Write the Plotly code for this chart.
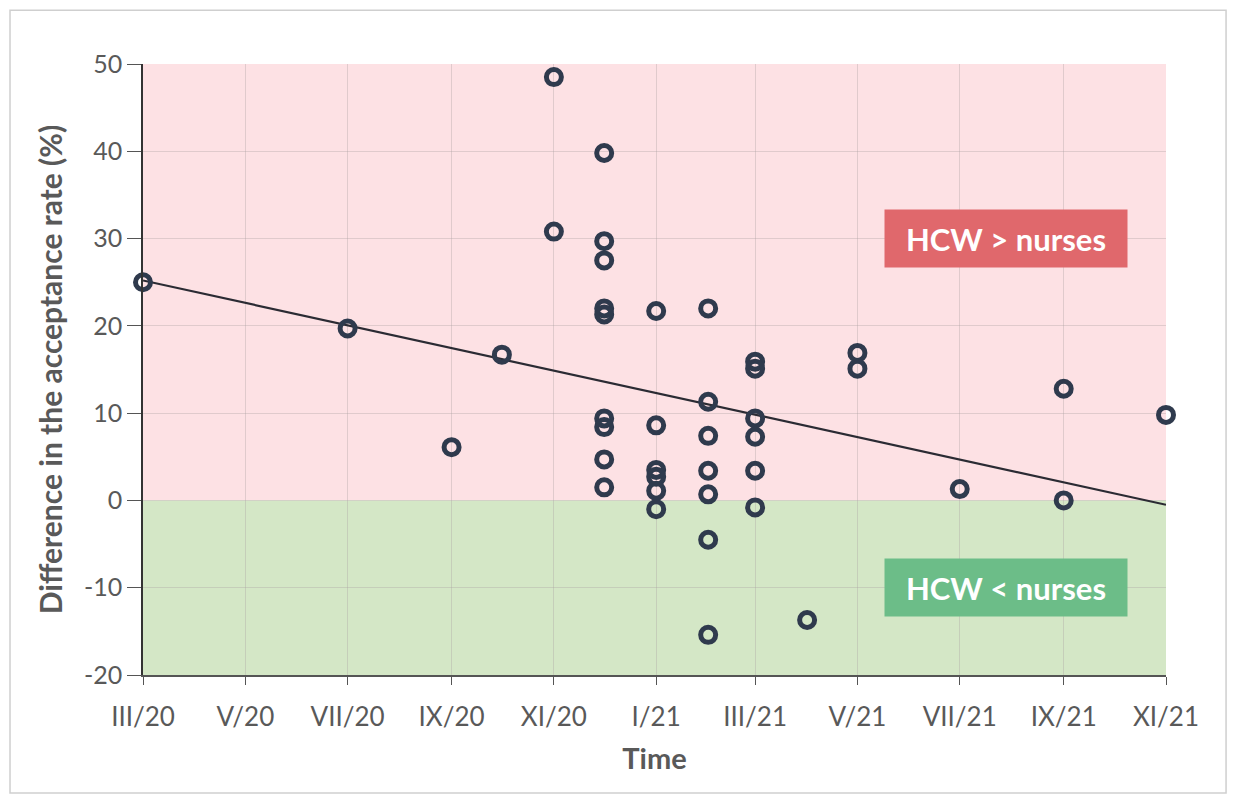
import plotly.graph_objects as go

# observations: survey month and difference in acceptance rate (HCW - nurses, %)
obs_month = (
    ["2020-03-01", "2020-07-01", "2020-09-01", "2020-10-01"]
    + ["2020-11-01"] * 2
    + ["2020-12-01"] * 9
    + ["2021-01-01"] * 6
    + ["2021-02-01"] * 7
    + ["2021-03-01"] * 6
    + ["2021-04-01"]
    + ["2021-05-01"] * 2
    + ["2021-07-01"]
    + ["2021-09-01"] * 2
    + ["2021-11-01"]
)
obs_diff = (
    [25.0, 19.7, 6.1, 16.7]
    + [48.5, 30.8]
    + [39.8, 29.7, 27.5, 22.0, 21.3, 9.4, 8.4, 4.7, 1.5]
    + [21.7, 8.6, 3.5, 2.7, 1.1, -1.0]
    + [22.0, 11.3, 7.4, 3.4, 0.7, -4.5, -15.4]
    + [15.9, 15.1, 9.4, 7.3, 3.4, -0.8]
    + [-13.7]
    + [16.9, 15.1]
    + [1.3]
    + [12.8, 0.0]
    + [9.8]
)

# linear trend as drawn in the source
trend_month = ["2020-03-01", "2021-11-01"]
trend_diff = [25.2, -0.5]

tick_months = ["2020-03-01", "2020-05-01", "2020-07-01", "2020-09-01", "2020-11-01",
               "2021-01-01", "2021-03-01", "2021-05-01", "2021-07-01", "2021-09-01",
               "2021-11-01"]
tick_labels = ["III/20", "V/20", "VII/20", "IX/20", "XI/20", "I/21", "III/21",
               "V/21", "VII/21", "IX/21", "XI/21"]
y_ticks = [-20, -10, 0, 10, 20, 30, 40, 50]
y_labels = ["-20", "-10", "0", "10", "20", "30", "40", "50"]

TEXT = "#595959"
FONT = "Lato"
GRID = "rgba(170,160,160,0.35)"

fig = go.Figure()

fig.add_trace(go.Scatter(
    x=trend_month, y=trend_diff, mode="lines",
    line=dict(color="#2b2b33", width=2.2),
    hoverinfo="skip", showlegend=False, cliponaxis=False,
))
fig.add_trace(go.Scatter(
    x=obs_month, y=obs_diff, mode="markers",
    marker=dict(symbol="circle-open", size=15, color="#2f3a4d",
                line=dict(width=5, color="#2f3a4d")),
    showlegend=False, cliponaxis=False,
))

# shaded zones
fig.add_shape(type="rect", xref="paper", yref="y", x0=0, x1=1, y0=0, y1=50,
              fillcolor="#fde1e4", line_width=0, layer="below")
fig.add_shape(type="rect", xref="paper", yref="y", x0=0, x1=1, y0=-20, y1=0,
              fillcolor="#d4e7c6", line_width=0, layer="below")
# outer frame
fig.add_shape(type="rect", xref="paper", yref="paper", x0=-0.130, x1=1.0587,
              y0=-0.193, y1=1.088, line=dict(color="#cfcfcf", width=1.5),
              fillcolor="rgba(0,0,0,0)")

for label, yval, colour in [("<b>HCW &gt; nurses</b>", 30, "#e0686c"),
                            ("<b>HCW &lt; nurses</b>", -10, "#6cbd88")]:
    fig.add_annotation(xref="paper", yref="y", x=0.844, y=yval, text=label,
                       xanchor="center", yanchor="middle",
                       showarrow=False, bgcolor=colour, width=242, height=57,
                       borderpad=0, font=dict(family=FONT, size=31, color="white"))

fig.update_xaxes(
    type="date", range=["2020-03-01", "2021-11-01"],
    tickvals=tick_months, ticktext=tick_labels,
    showgrid=True, gridcolor=GRID, gridwidth=1,
    showline=True, linecolor="#555555", linewidth=1.5,
    ticks="outside", ticklen=8, tickcolor="#555555", ticklabelstandoff=10,
    tickfont=dict(family=FONT, size=26, color=TEXT),
    title=dict(text="<b>Time</b>", font=dict(family=FONT, size=29, color=TEXT), standoff=18),
    zeroline=False,
)
fig.update_yaxes(
    range=[-20, 50], tickvals=y_ticks, ticktext=y_labels,
    showgrid=True, gridcolor=GRID, gridwidth=1,
    showline=True, linecolor="#333333", linewidth=1.5,
    ticks="outside", ticklen=14, tickcolor="#555555",
    tickfont=dict(family=FONT, size=25, color=TEXT),
    title=dict(text="<b>Difference in the acceptance rate (%)</b>",
               font=dict(family=FONT, size=30, color=TEXT), standoff=12),
    zeroline=False,
)

fig.update_layout(
    width=1236, height=800,
    margin=dict(l=135, r=78, t=56, b=133),
    paper_bgcolor="white", plot_bgcolor="white",
    font=dict(family=FONT, color=TEXT),
)

fig.write_html("out.html")
